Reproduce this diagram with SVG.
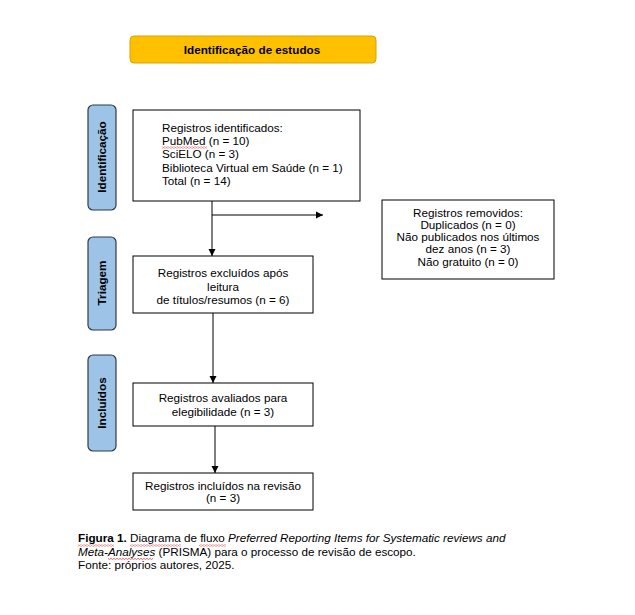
<svg xmlns="http://www.w3.org/2000/svg" width="635" height="615" viewBox="0 0 635 615">
<style>
.t{font-family:"Liberation Sans",Arial,sans-serif;font-size:11.7px;fill:#000}
.b{font-weight:bold}
.box{fill:#fff;stroke:#000;stroke-width:1}
.side{fill:#9DC3E6;stroke:#2F3B4A;stroke-width:1.2}
.ln{stroke:#000;stroke-width:1;fill:none}
</style>
<defs>
<marker id="ah" markerWidth="8" markerHeight="8" refX="7" refY="4" orient="auto" markerUnits="userSpaceOnUse">
<path d="M0,0.5 L7,4 L0,7.5 Z" fill="#000"/>
</marker>
<pattern id="wave" x="0" y="0" width="3" height="2" patternUnits="userSpaceOnUse">
<path d="M0,0.3 L1.5,1.6 L3,0.3" stroke="#E02020" stroke-width="0.7" fill="none"/>
</pattern>
</defs>
<rect width="635" height="615" fill="#fff"/>

<g id="title">
<rect x="130" y="36" width="246" height="27" rx="4" fill="#FFC000" stroke="#D9A400" stroke-width="1"/>
<text class="t b" x="252" y="53.5" text-anchor="middle">Identificação de estudos</text>
</g>

<g id="side-identificacao">
<rect class="side" x="88" y="105" width="28" height="105" rx="5"/>
<text class="t b" transform="translate(106,157) rotate(-90)" text-anchor="middle">Identificação</text>
</g>
<g id="side-triagem">
<rect class="side" x="88" y="237" width="28" height="93" rx="5"/>
<text class="t b" transform="translate(106,283) rotate(-90)" text-anchor="middle">Triagem</text>
</g>
<g id="side-incluidos">
<rect class="side" x="88" y="355" width="28" height="96" rx="5"/>
<text class="t b" transform="translate(106,403) rotate(-90)" text-anchor="middle">Incluídos</text>
</g>

<g id="connectors">
<line class="ln" x1="212" y1="201" x2="212" y2="256" marker-end="url(#ah)"/>
<line class="ln" x1="212" y1="215" x2="323" y2="215" marker-end="url(#ah)"/>
<line class="ln" x1="213" y1="313" x2="213" y2="383" marker-end="url(#ah)"/>
<line class="ln" x1="215" y1="426" x2="215" y2="473" marker-end="url(#ah)"/>
</g>

<g id="identificados">
<rect class="box" x="133" y="110" width="227" height="91"/>
<text class="t" x="162" y="132">Registros identificados:</text>
<text class="t" x="162" y="145.2">PubMed (n = 10)</text>
<text class="t" x="162" y="158.4">SciELO (n = 3)</text>
<text class="t" x="162" y="171.6">Biblioteca Virtual em Saúde (n = 1)</text>
<text class="t" x="162" y="184.8">Total (n = 14)</text>
<rect x="162" y="146.5" width="45" height="2" fill="url(#wave)"/>
</g>

<g id="removidos">
<rect class="box" x="382" y="200" width="172" height="79"/>
<text class="t" x="468" y="216.5" text-anchor="middle">Registros removidos:</text>
<text class="t" x="468" y="228.8" text-anchor="middle">Duplicados (n = 0)</text>
<text class="t" x="468" y="241.1" text-anchor="middle">Não publicados nos últimos</text>
<text class="t" x="468" y="253.4" text-anchor="middle">dez anos (n = 3)</text>
<text class="t" x="468" y="265.7" text-anchor="middle">Não gratuito (n = 0)</text>
</g>

<g id="excluidos">
<rect class="box" x="133" y="256" width="180" height="57"/>
<text class="t" x="223" y="277" text-anchor="middle">Registros excluídos após</text>
<text class="t" x="223" y="290.5" text-anchor="middle">leitura</text>
<text class="t" x="223" y="304" text-anchor="middle">de títulos/resumos (n = 6)</text>
</g>

<g id="avaliados">
<rect class="box" x="133" y="383" width="180" height="43"/>
<text class="t" x="223" y="402" text-anchor="middle">Registros avaliados para</text>
<text class="t" x="223" y="415.5" text-anchor="middle">elegibilidade (n = 3)</text>
</g>

<g id="incluidos">
<rect class="box" x="133" y="473" width="180" height="37"/>
<text class="t" x="223" y="490" text-anchor="middle">Registros incluídos na revisão</text>
<text class="t" x="223" y="502" text-anchor="middle">(n = 3)</text>
</g>

<g id="caption">
<text class="t" x="78" y="542"><tspan class="b">Figura 1.</tspan> Diagrama de fluxo <tspan font-style="italic">Preferred Reporting Items for Systematic reviews and</tspan></text>
<text class="t" x="78" y="555.5"><tspan font-style="italic">Meta-Analyses</tspan> (PRISMA) para o processo de revisão de escopo.</text>
<text class="t" x="78" y="569">Fonte: próprios autores, 2025.</text>
<rect x="78" y="544.5" width="36" height="2" fill="url(#wave)"/>
<rect x="130" y="544.5" width="51" height="2" fill="url(#wave)"/>
<rect x="199" y="544.5" width="27" height="2" fill="url(#wave)"/>
<rect x="108" y="558" width="45" height="2" fill="url(#wave)"/>
</g>
</svg>
